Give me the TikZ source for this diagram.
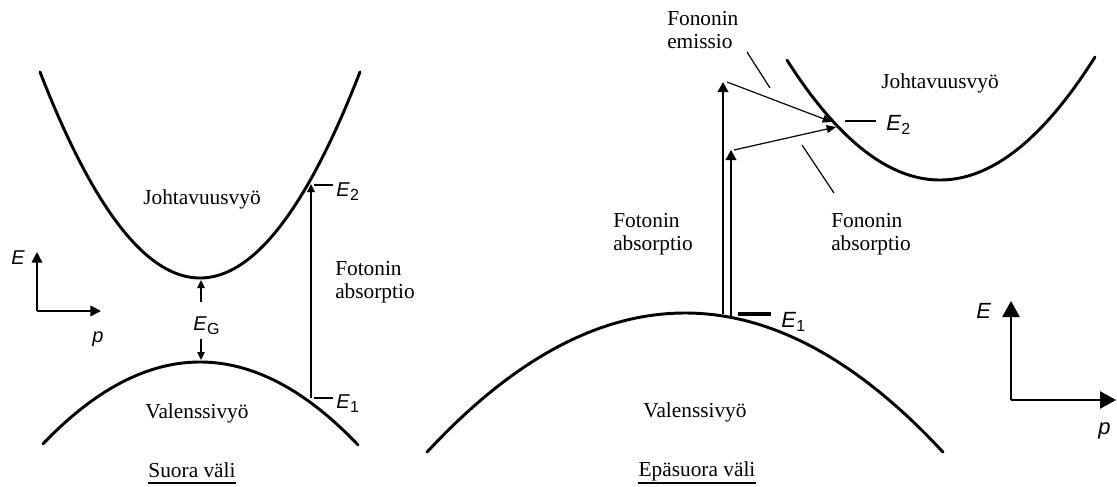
\documentclass[tikz,border=0pt]{standalone}
\usepackage{fontspec}
\setmainfont{Liberation Serif}
\setsansfont{Liberation Sans}
\usetikzlibrary{arrows.meta,calc}
\newcommand\twol[2]{\vtop{\hbox{#1}\hbox{#2}}}
\newcommand\Esb[1]{E\kern0.3pt\raisebox{-0.4ex}{\upshape\fontsize{12}{12}\selectfont #1}}
\begin{document}
\begin{tikzpicture}[x=0.75pt,y=-0.75pt,
  band/.style={line width=2.2pt,line cap=round},
  arrow/.style={line width=1.2pt,-{Triangle[length=6pt,width=5.5pt]}},
  bigarrow/.style={line width=1.3pt,-{Triangle[length=7.5pt,width=8pt]}},
  thinarrow/.style={line width=0.9pt,-{Triangle[length=7pt,width=6pt]}},
  axisL/.style={line width=1.2pt,-{Triangle[length=8pt,width=8pt]}},
  axisR/.style={line width=1.2pt,-{Triangle[length=12pt,width=13pt]}},
  lead/.style={line width=0.9pt},
  tick/.style={line width=1.1pt},
  serif/.style={font=\fontsize{16}{17.25}\selectfont,inner sep=0pt},
  sym/.style={font=\sffamily\itshape\fontsize{15}{17}\selectfont,inner sep=0pt},
  symR/.style={font=\sffamily\itshape\fontsize{16.5}{19}\selectfont,inner sep=0pt},
  uline/.style={line width=1.6pt}]
\useasboundingbox (0,0) rectangle (1117,486);

% ---------------- left panel ----------------
\draw[band] plot[domain=-16:16,samples=100] ({200+10*\x},{278-0.805*\x*\x});
\draw[band] plot[domain=-15.7:15.8,samples=100] ({200+10*\x},{362+0.332*\x*\x});

\node[serif,anchor=base] (jl) at (202,204) {Johtavuusvyö};
\node[serif,anchor=base] (vl) at (197,418) {Valenssivyö};

% E_G
\node[sym,anchor=base west] (eg) at (193,330) {\Esb{G}};
\coordinate (egu1) at (201,302); \coordinate (egu2) at (201,280);
\coordinate (egd1) at (201,339); \coordinate (egd2) at (201,360);
\draw[arrow] (egu1) -- (egu2);
\draw[arrow] (egd1) -- (egd2);

% photon arrow
\coordinate (pa1) at (311,398); \coordinate (pa2) at (311,184);
\draw[arrow] (pa1) -- (pa2);
\coordinate (t2a) at (314,185); \coordinate (t2b) at (333,185);
\coordinate (t1a) at (314,398); \coordinate (t1b) at (333,398);
\draw[tick] (t2a) -- (t2b);
\draw[tick] (t1a) -- (t1b);
\node[sym,anchor=base west] (e2l) at (336,196) {\Esb{2}};
\node[sym,anchor=base west] (e1l) at (336,408) {\Esb{1}};
\node[serif,anchor=base west] (fal) at (335,275) {\twol{Fotonin}{absorptio}};

% left axes
\coordinate (ol) at (37,311); \coordinate (oly) at (37,252); \coordinate (olx) at (101,311);
\draw[axisL] (ol) -- (oly);
\draw[axisL] (ol) -- (olx);
\node[sym,anchor=base west] (el) at (11,264) {E};
\node[sym,anchor=base west] (pl) at (92,342) {p};

\node[serif,anchor=base] (tl) at (192,477) {Suora väli};
\draw[uline] ([yshift=-4.6pt]tl.base west) -- ([yshift=-4.6pt]tl.base east);

% ---------------- right panel ----------------
\draw[band] plot[domain=-25.8:25.8,samples=120] ({685+10*\x},{313+0.209*\x*\x});
\draw[band] plot[domain=-15.3:15.5,samples=100] ({940+10*\x},{180-0.512*\x*\x});

\node[serif,anchor=base] (jr) at (940,88) {Johtavuusvyö};
\node[serif,anchor=base] (vr) at (695,417) {Valenssivyö};

% double vertical arrows
\coordinate (a1s) at (723,314); \coordinate (a1e) at (723,82);
\coordinate (a2s) at (731,317); \coordinate (a2e) at (731,150);
\draw[bigarrow] (a1s) -- (a1e);
\draw[bigarrow] (a2s) -- (a2e);

% phonon arrows
\coordinate (em1) at (727,82);  \coordinate (em2) at (832,122);
\coordinate (ab1) at (734,150); \coordinate (ab2) at (836,127);
\draw[thinarrow] (em1) -- (em2);
\draw[thinarrow] (ab1) -- (ab2);

% leaders
\coordinate (le1) at (747,52);  \coordinate (le2) at (770,88);
\coordinate (la1) at (802,145); \coordinate (la2) at (834,193);
\draw[lead] (le1) -- (le2);
\draw[lead] (la1) -- (la2);

\node[serif,anchor=base west] (fem) at (667,25) {\twol{Fononin}{emissio}};
\node[serif,anchor=base west] (fab) at (831,227) {\twol{Fononin}{absorptio}};
\node[serif,anchor=base west] (far) at (613,227) {\twol{Fotonin}{absorptio}};

% E1, E2 ticks
\coordinate (r1a) at (738,314); \coordinate (r1b) at (771,314);
\draw[line width=2.4pt] (r1a) -- (r1b);
\node[symR,anchor=base west] (e1r) at (781,327) {\Esb{1}};
\coordinate (r2a) at (845,121); \coordinate (r2b) at (876,121);
\draw[tick] (r2a) -- (r2b);
\node[symR,anchor=base west] (e2r) at (886,130) {\Esb{2}};

% right axes
\coordinate (or) at (1011,400); \coordinate (ory) at (1011,301); \coordinate (orx) at (1116,400);
\draw[axisR] (or) -- (ory);
\draw[axisR] (or) -- (orx);
\node[symR,anchor=base west] (er) at (976,318) {E};
\node[symR,anchor=base west] (pr) at (1098,434) {p};

\node[serif,anchor=base] (tr) at (697,476) {Epäsuora väli};
\draw[uline] ([yshift=-5.2pt]tr.base west) -- ([yshift=-5.2pt]tr.base east);
\end{tikzpicture}
\end{document}
